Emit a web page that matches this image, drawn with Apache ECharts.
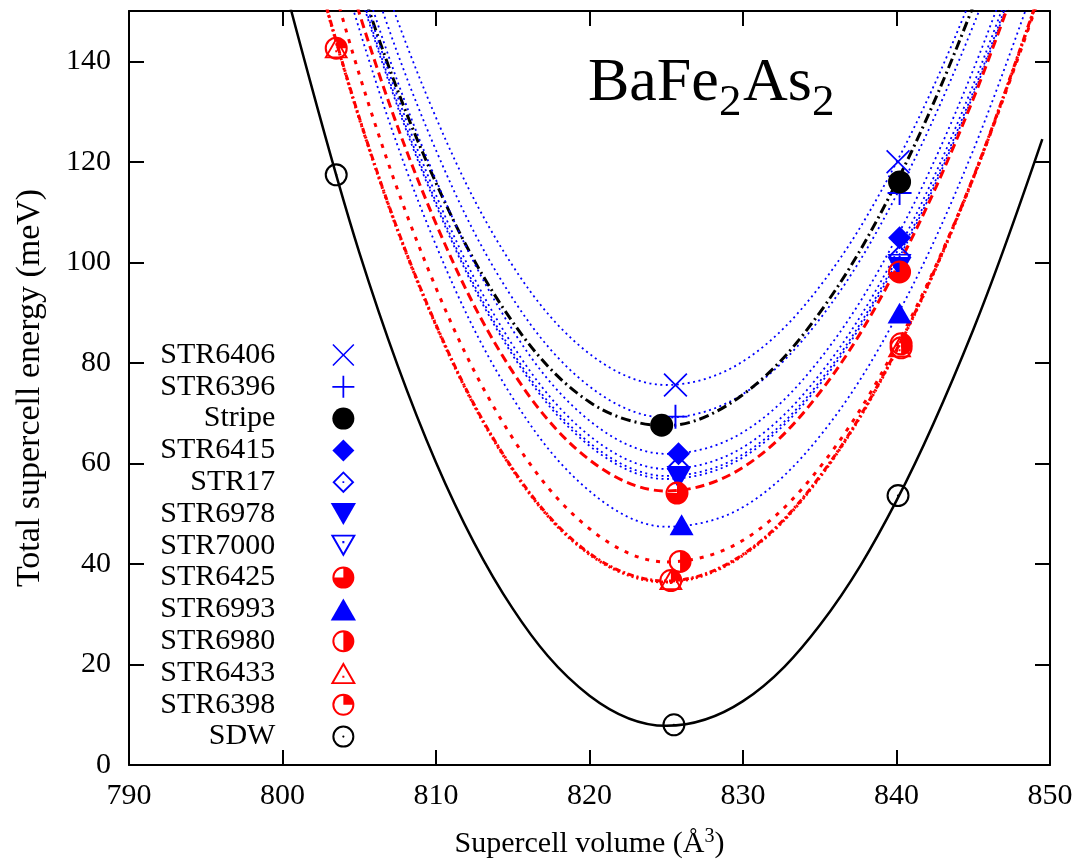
<!DOCTYPE html>
<html>
<head>
<meta charset="utf-8">
<title>BaFe2As2 supercell energy</title>
<script src="https://cdn.jsdelivr.net/npm/echarts@6/dist/echarts.min.js"></script>
<style>
html,body{margin:0;padding:0;background:#fff;}
#chart{width:1080px;height:865px;}
</style>
</head>
<body>
<div id="chart"></div>
<script>
/*
* BaFe2As2 超胞能量-体积曲线
*/
var SERIF = 'Liberation Serif';

// 坐标轴刻度
var xTicks = [790, 800, 810, 820, 830, 840, 850];
var yTicks = [0, 20, 40, 60, 80, 100, 120, 140, 150];

// 结构名称（图例顺序）
var names = ['STR6406', 'STR6396', 'Stripe', 'STR6415', 'STR17', 'STR6978', 'STR7000',
             'STR6425', 'STR6993', 'STR6980', 'STR6433', 'STR6398', 'SDW'];

// 计算点 [体积, 能量]
var ptStr6406 = [[825.6, 75.6], [840.1, 120.0]];
var ptStr6396 = [[825.6, 69.3], [840.2, 113.8]];
var ptStripe  = [[824.7, 67.6], [840.2, 116.0]];
var ptStr6415 = [[825.8, 61.9], [840.2, 104.9]];
var ptStr17   = [[825.8, 59.3], [840.2, 101.2]];
var ptStr6978 = [[825.8, 57.4], [840.2, 99.0]];
var ptStr7000 = [[825.8, 57.0], [840.2, 99.6]];
var ptStr6425 = [[825.7, 54.1], [840.2, 98.1]];
var ptStr6993 = [[826.0, 47.8], [840.2, 89.9]];
var ptStr6980 = [[825.9, 40.5], [840.3, 83.8]];
var ptStr6433 = [[803.5, 142.7], [825.3, 36.9], [840.2, 83.2]];
var ptStr6398 = [[803.5, 142.6], [825.3, 36.7], [840.3, 83.0]];
var ptSdw     = [[803.5, 117.4], [825.5, 8.0], [840.1, 53.6]];

// 拟合曲线（从图上读取的能量值）
var fitV    = [800, 805, 810, 815, 820, 825, 830, 835, 840, 845, 850];
var sdwFitV = [800, 805, 810, 815, 820, 825, 830, 835, 840, 845, 849.5];
var fitStr6406 = [225.8, 170.7, 128.8, 99.3, 81.8, 75.6, 80.3, 95.2, 119.9, 153.6, 195.9];
var fitStr6396 = [219.3, 164.2, 122.3, 92.8, 75.3, 69.1, 73.8, 88.7, 113.4, 147.1, 189.4];
var fitStripe  = [209.1, 156.0, 115.8, 88.1, 72.2, 67.5, 73.7, 90.0, 115.9, 151.0, 194.4];
var fitStr6415 = [214.5, 158.9, 116.4, 86.5, 68.5, 61.9, 66.2, 80.7, 104.9, 138.3, 180.3];
var fitStr17   = [211.5, 155.9, 113.4, 83.5, 65.5, 58.9, 63.2, 77.7, 101.9, 135.3, 177.3];
var fitStr6978 = [210.1, 154.5, 112.0, 82.1, 64.1, 57.5, 61.8, 76.3, 100.5, 133.9, 175.9];
var fitStr7000 = [209.5, 153.9, 111.4, 81.5, 63.5, 56.9, 61.2, 75.7, 99.9, 133.3, 175.3];
var fitStr6425 = [204.7, 149.6, 107.7, 78.2, 60.7, 54.5, 59.2, 74.1, 98.8, 132.5, 174.8];
var fitStr6993 = [202.5, 146.4, 103.4, 73.0, 54.5, 47.4, 51.3, 65.4, 89.2, 122.3, 164.0];
var fitStr6980 = [193.0, 137.4, 94.9, 65.0, 47.0, 40.4, 44.7, 59.2, 83.4, 116.8, 158.8];
var fitStr6433 = [183.0, 128.8, 87.6, 58.9, 42.1, 36.6, 41.9, 57.4, 82.6, 116.9, 159.7];
var fitStr6398 = [182.8, 128.6, 87.4, 58.7, 41.9, 36.4, 41.7, 57.2, 82.4, 116.7, 159.5];
var fitSdw     = [156.7, 102.0, 60.2, 31.1, 13.8, 7.8, 12.7, 27.8, 52.6, 86.6, 124.5];

// 点的符号（gnuplot 风格）
var RING = 'M50,0 A50,50 0 1,1 50,100 A50,50 0 1,1 50,0 Z M50,9 A41,41 0 1,0 50,91 A41,41 0 1,0 50,9 Z';
var SYM = {
  cross: 'path://M0,5 L5,0 L50,45 L95,0 L100,5 L55,50 L100,95 L95,100 L50,55 L5,100 L0,95 L45,50 Z',
  plus: 'path://M46,0 L54,0 L54,46 L100,46 L100,54 L54,54 L54,100 L46,100 L46,54 L0,54 L0,46 L46,46 Z',
  disc: 'path://M50,0 A50,50 0 1,1 50,100 A50,50 0 1,1 50,0 Z',
  diamond: 'path://M50,0 L100,50 L50,100 L0,50 Z',
  diamondOpen: 'path://M50,0 L100,50 L50,100 L0,50 Z M50,12 L12,50 L50,88 L88,50 Z M46,46 L54,46 L54,54 L46,54 Z',
  triDown: 'path://M0,0 L100,0 L50,87 Z',
  triDownOpen: 'path://M0,0 L100,0 L50,87 Z M13,7 L50,71 L87,7 Z M46,25 L54,25 L54,33 L46,33 Z',
  triUp: 'path://M50,0 L100,87 L0,87 Z',
  triUpOpen: 'path://M50,0 L100,87 L0,87 Z M50,16 L13,80 L87,80 Z M46,54 L54,54 L54,62 L46,62 Z',
  circleOpen: 'path://' + RING + ' M50,45 A5,5 0 1,1 50,55 A5,5 0 1,1 50,45 Z',
  circle3q: 'path://' + RING + ' M50,50 L50,5 A45,45 0 1,1 5,50 Z',
  circleHalf: 'path://' + RING + ' M50,5 A45,45 0 0,1 50,95 Z',
  circle1q: 'path://' + RING + ' M50,50 L50,5 A45,45 0 0,1 95,50 Z'
};

var BLUE = '#0000ff', RED = '#ff0000', BLACK = '#000000';

function pairs(vs, es) {
  return vs.map(function (v, i) { return [v, es[i]]; });
}

//拟合曲线
function fitLine(name, vs, es, color, width, dash) {
  return {
    name: name + ' fit',
    type: 'line',
    data: pairs(vs, es),
    smooth: 0.35,
    showSymbol: false,
    symbol: 'none',
    silent: true,
    z: 2,
    clip: true,
    itemStyle: { color: color },
    lineStyle: { color: color, width: width, type: dash }
  };
}

//数据点
function points(name, data, symbol, size, color) {
  return {
    name: name,
    type: 'scatter',
    data: data,
    symbol: symbol,
    symbolSize: size,
    symbolKeepAspect: true,
    silent: true,
    z: 3,
    itemStyle: { color: color, opacity: 1 }
  };
}

var dotted = [2, 3.5];
var series = [
  fitLine('STR6406', fitV, fitStr6406, BLUE, 1.8, dotted),
  fitLine('STR6396', fitV, fitStr6396, BLUE, 1.8, dotted),
  fitLine('Stripe', fitV, fitStripe, BLACK, 3, [10, 4, 2, 4]),
  fitLine('STR6415', fitV, fitStr6415, BLUE, 1.8, dotted),
  fitLine('STR17', fitV, fitStr17, BLUE, 1.8, dotted),
  fitLine('STR6978', fitV, fitStr6978, BLUE, 1.8, dotted),
  fitLine('STR7000', fitV, fitStr7000, BLUE, 1.8, dotted),
  fitLine('STR6425', fitV, fitStr6425, RED, 3, [9, 5]),
  fitLine('STR6993', fitV, fitStr6993, BLUE, 1.8, dotted),
  fitLine('STR6980', fitV, fitStr6980, RED, 3, [4, 7]),
  fitLine('STR6433', fitV, fitStr6433, RED, 3, [6, 3, 2, 3]),
  fitLine('STR6398', fitV, fitStr6398, RED, 3, [2, 3]),
  fitLine('SDW', sdwFitV, fitSdw, BLACK, 2.5, 'solid'),

  points('STR6406', ptStr6406, SYM.cross, 24, BLUE),
  points('STR6396', ptStr6396, SYM.plus, 24, BLUE),
  points('Stripe', ptStripe, SYM.disc, 23, BLACK),
  points('STR6415', ptStr6415, SYM.diamond, 23, BLUE),
  points('STR17', ptStr17, SYM.diamondOpen, 23, BLUE),
  points('STR6978', ptStr6978, SYM.triDown, 24, BLUE),
  points('STR7000', ptStr7000, SYM.triDownOpen, 24, BLUE),
  points('STR6425', ptStr6425, SYM.circle3q, 23, RED),
  points('STR6993', ptStr6993, SYM.triUp, 24, BLUE),
  points('STR6980', ptStr6980, SYM.circleHalf, 23, RED),
  points('STR6433', ptStr6433, SYM.triUpOpen, 24, RED),
  points('STR6398', ptStr6398, SYM.circle1q, 23, RED),
  points('SDW', ptSdw, SYM.circleOpen, 23, BLACK)
];

function frameAxis(pos, min, max, step, withLabels) {
  return {
    type: 'value',
    position: pos,
    min: min,
    max: max,
    interval: step,
    axisLine: { show: true, onZero: false, lineStyle: { color: '#000', width: 2 } },
    axisTick: { show: true, inside: true, length: 15, lineStyle: { color: '#000', width: 2 } },
    axisLabel: { show: withLabels, fontFamily: SERIF, fontSize: 30, color: '#000' },
    splitLine: { show: false }
  };
}

var xBottom = frameAxis('bottom', xTicks[0], xTicks[xTicks.length - 1], 10, true);
xBottom.axisLabel.margin = 16;
xBottom.name = '{a|Supercell volume (Å}{b|3}{a|)}';
xBottom.nameLocation = 'middle';
xBottom.nameGap = 62;
xBottom.nameTextStyle = {
  rich: {
    a: { fontFamily: SERIF, fontSize: 30, lineHeight: 34, color: '#000' },
    b: { fontFamily: SERIF, fontSize: 20, lineHeight: 14, color: '#000', verticalAlign: 'top' }
  }
};
var xTop = frameAxis('top', xTicks[0], xTicks[xTicks.length - 1], 10, false);

var yLeft = frameAxis('left', yTicks[0], yTicks[yTicks.length - 1], 20, true);
yLeft.axisLabel.margin = 18;
yLeft.axisLabel.showMaxLabel = false;
yLeft.axisLabel.formatter = function (v) { return v > 140 ? '' : String(v); };
yLeft.name = 'Total supercell energy (meV)';
yLeft.nameLocation = 'middle';
yLeft.nameRotate = 90;
yLeft.nameGap = 82;
yLeft.nameTextStyle = { fontFamily: SERIF, fontSize: 34, color: '#000' };
var yRight = frameAxis('right', yTicks[0], yTicks[yTicks.length - 1], 20, false);

//标题 BaFe2As2（下标单独放置）
function titlePart(text, x, y, size) {
  return {
    type: 'text',
    x: x,
    y: y,
    silent: true,
    style: { text: text, fontFamily: SERIF, fontSize: size, fill: '#000', align: 'left', verticalAlign: 'middle' }
  };
}

var myChart = echarts.init(document.getElementById('chart'), null, { renderer: 'canvas' });
var option = {
  animation: false,
  backgroundColor: '#fff',
  grid: { left: 129, right: 30, top: 11, bottom: 100, containLabel: false, outerBoundsMode: 'none' },
  xAxis: [xBottom, xTop],
  yAxis: [yLeft, yRight],
  legend: {
    data: names,
    orient: 'vertical',
    align: 'right',
    right: 724,
    top: 340,
    padding: 0,
    itemWidth: 126,
    itemHeight: 22,
    itemGap: 1.8,
    selectedMode: false,
    symbolKeepAspect: true,
    textStyle: { fontFamily: SERIF, fontSize: 30, lineHeight: 22, color: '#000' }
  },
  graphic: [
    titlePart('BaFe', 588, 84, 62),
    titlePart('2', 719, 103, 45),
    titlePart('As', 743, 84, 62),
    titlePart('2', 812, 103, 45)
  ],
  series: series
};
myChart.setOption(option);
</script>
</body>
</html>
